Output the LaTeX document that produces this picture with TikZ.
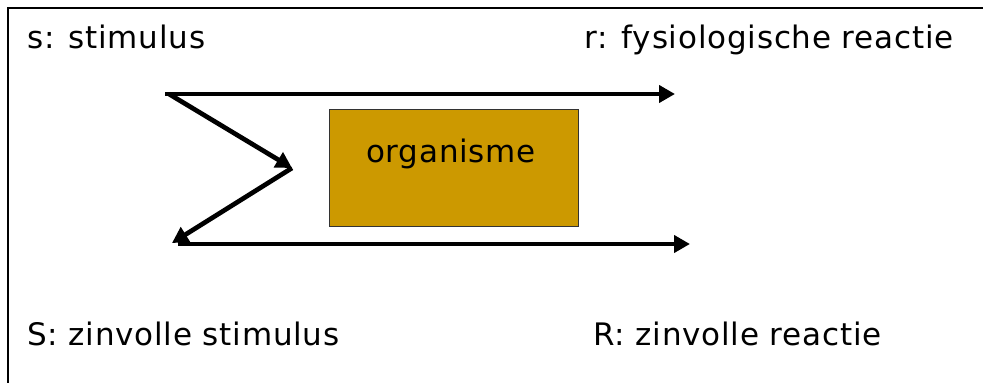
\documentclass[tikz,border=0pt]{standalone}
\usepackage{fontspec}
\setmainfont{DejaVu Sans}[LetterSpace=2.5]
\usetikzlibrary{arrows.meta}
\definecolor{orgfill}{HTML}{CC9900}
\tikzset{
  lbl/.style={anchor=base west, inner sep=0pt, font=\fontsize{31}{36}\selectfont},
  arr/.style={line width=4.7pt, -{Triangle[length=16pt,width=17pt]}},
  orgbox/.style={draw=black!80, line width=1.2pt, fill=orgfill, minimum width=249pt, minimum height=117pt, inner sep=0pt, anchor=north west},
}
\begin{document}
\begin{tikzpicture}[x=1pt,y=-1pt]
\useasboundingbox (0,0) rectangle (983,383);
\draw[line width=2pt] (8,383) -- (8,8) -- (983,8);
\node[lbl] (s) at (27,48) {s: stimulus};
\node[lbl] (r) at (584,48) {r: fysiologische reactie};
\node[lbl] (S) at (27,345) {S: zinvolle stimulus};
\node[lbl] (R) at (593,345) {R: zinvolle reactie};
\node[orgbox] (org) at (329,109) {};
\node[anchor=base, inner sep=0pt, font=\fontsize{31}{36}\selectfont] (orgt) at (451,162) {organisme};
\coordinate (a1) at (165,94);
\coordinate (a2) at (675,94);
\coordinate (m) at (292,168);
\coordinate (b0) at (172,243);
\coordinate (b1) at (178,244);
\coordinate (b2) at (690,244);
\draw[arr] (a1) -- (a2);
\draw[arr] (a1) ++(4,0) -- (m);
\draw[arr] (m) -- (b0);
\draw[arr] (b1) -- (b2);
\end{tikzpicture}
\end{document}
